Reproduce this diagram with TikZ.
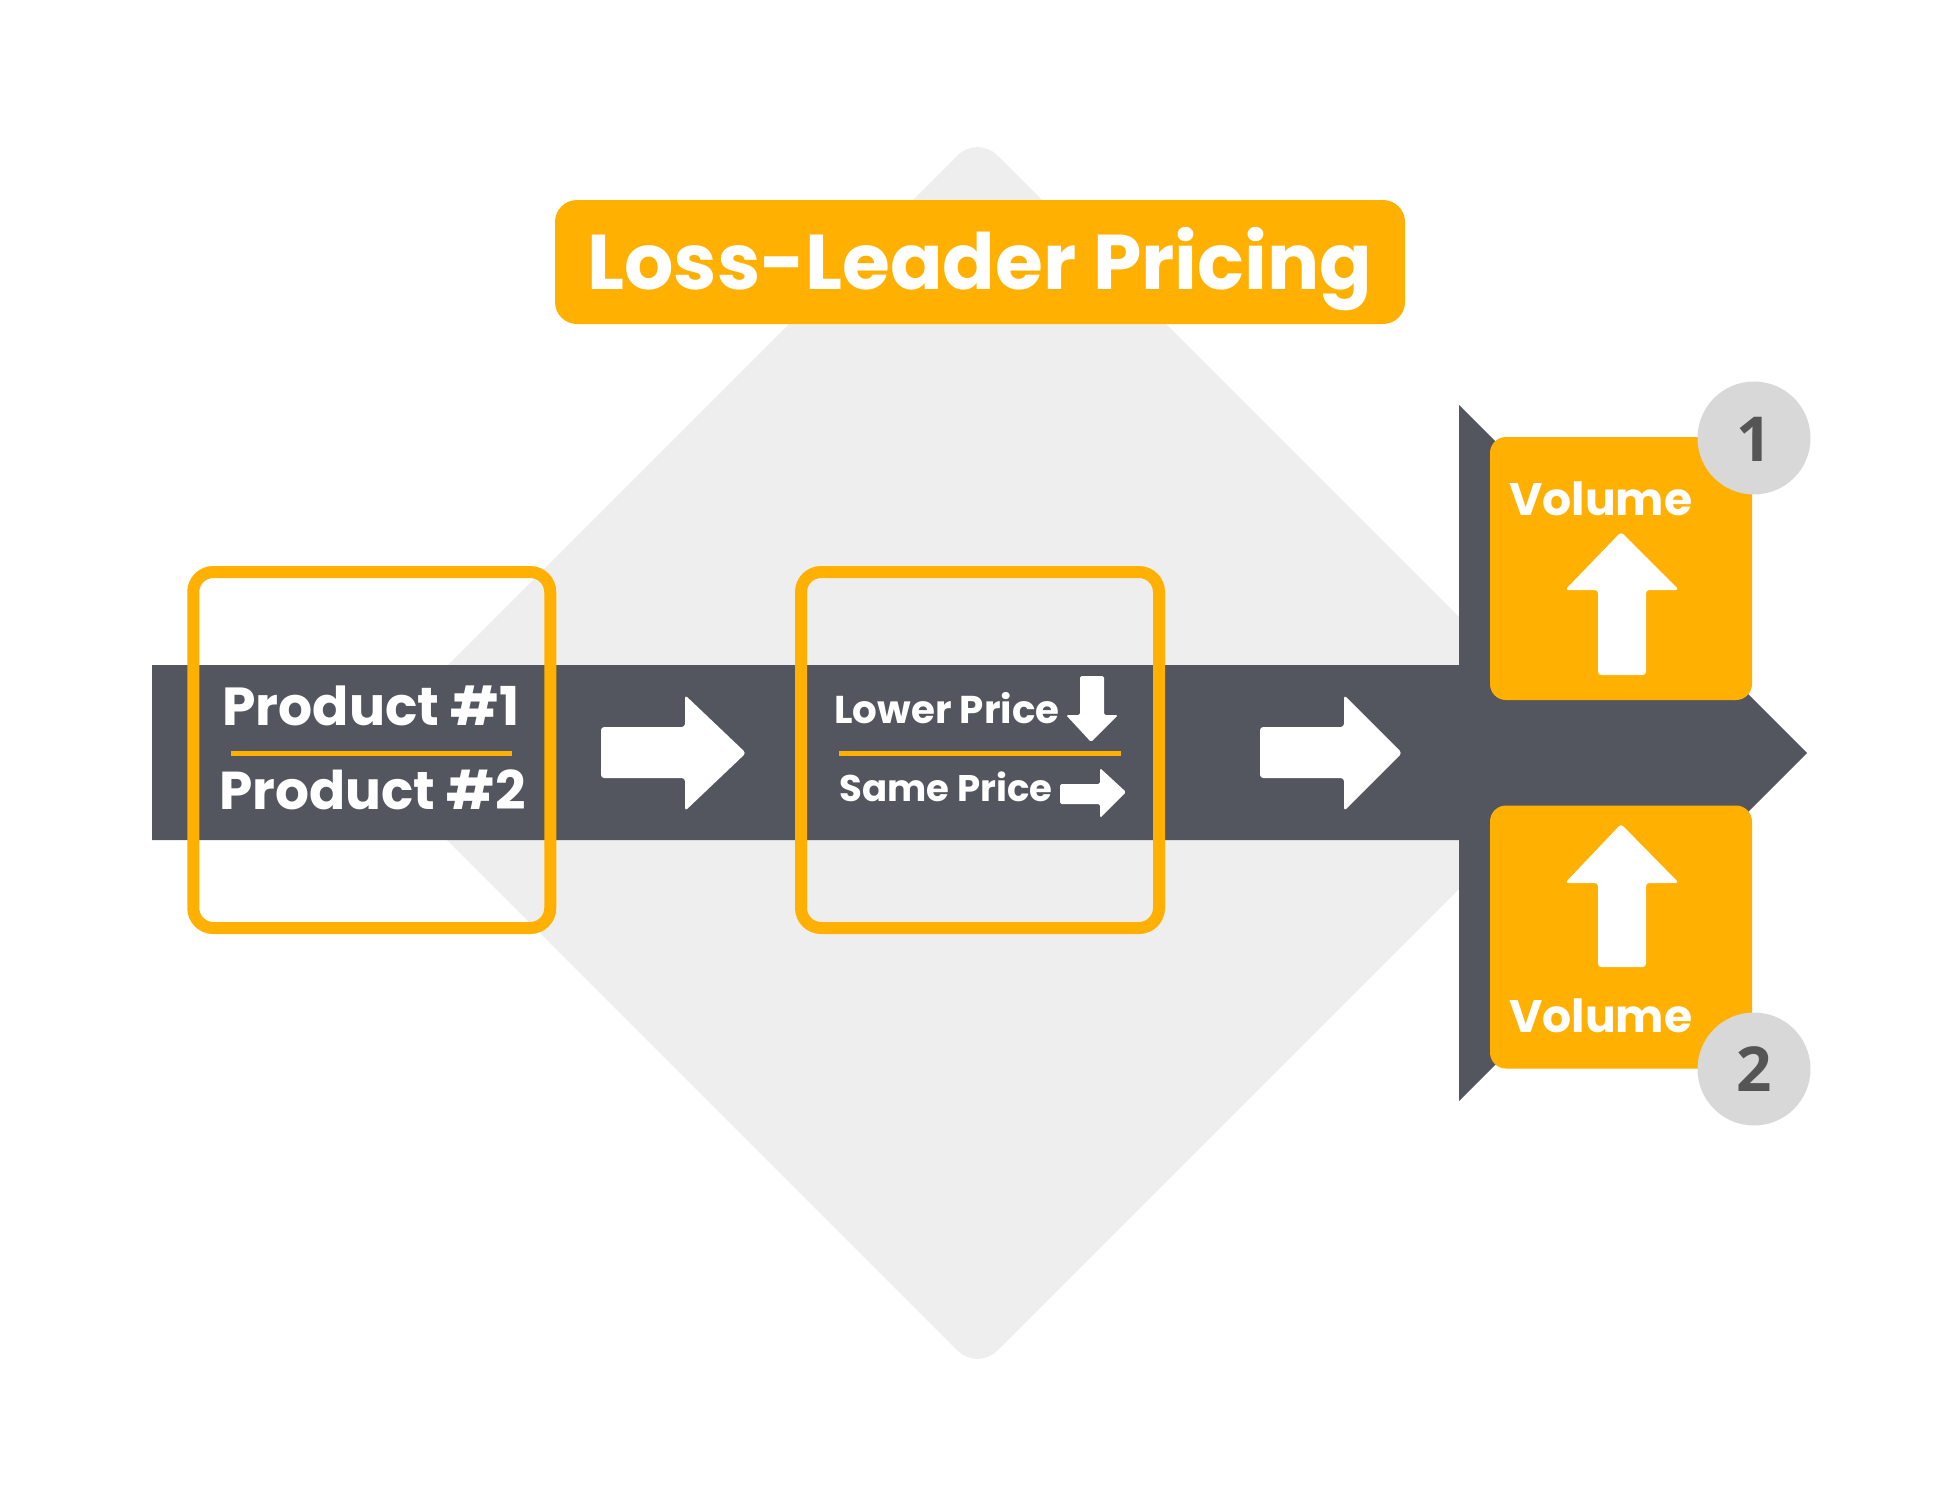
\documentclass[tikz,border=0pt]{standalone}
\usepackage{fontspec}
\usepackage{graphicx}
\setmainfont{Poppins}[BoldFont={Poppins Bold}]
\newfontfamily\digitfont{Open Sans}[BoldFont={Open Sans Bold}]
\definecolor{amber}{HTML}{FFB000}
\definecolor{slate}{HTML}{53565F}
\definecolor{pale}{HTML}{EEEEEE}
\definecolor{disc}{HTML}{D8D8D8}
\definecolor{ink}{HTML}{555555}
\newcommand{\fitted}[2]{\resizebox{#1}{!}{\bfseries #2}}
\tikzset{
  whitearrow/.style={fill=white,draw=none,rounded corners=1.6pt},
  frame/.style={draw=amber,line width=6pt,rounded corners=10pt},
  divider/.style={draw=amber,line width=2.5pt},
  label/.style={anchor=base west,inner sep=0pt,text=white},
  badge/.style={circle,fill=disc,inner sep=0pt,minimum size=56.5pt},
  digit/.style={anchor=base,inner sep=0pt,text=ink,font=\digitfont\bfseries\fontsize{31}{31}\selectfont},
  volbox/.style={fill=amber,rounded corners=8pt},
}
\begin{document}
\begin{tikzpicture}[x=0.5pt,y=-0.5pt]
\useasboundingbox (0,0) rectangle (1950,1500);
% diamond
\fill[pale,rounded corners=14pt] (977.5,135.5) -- (1595,753) -- (977.5,1370.5) -- (360,753) -- cycle;
% main arrow
\fill[slate] (152,665) -- (1459,665) -- (1459,405) -- (1807,753) -- (1459,1101) -- (1459,840) -- (152,840) -- cycle;
% title
\node[fill=amber,rounded corners=11pt,minimum width=425pt,minimum height=62pt,inner sep=0pt] (titlebox) at (980,262) {};
\node[label] (title) at (587,289) {\fitted{392.5pt}{Loss-Leader Pricing}};
% frames
\node[frame,minimum width=178.5pt,minimum height=178pt,inner sep=0pt] (frameA) at (371.75,750) {};
\node[frame,minimum width=179pt,minimum height=178pt,inner sep=0pt] (frameB) at (980,750) {};
% product labels
\node[label] (prodA) at (222,725) {\fitted{148.5pt}{Product \#1}};
\node[label] (prodB) at (219,809) {\fitted{153pt}{Product \#2}};
\coordinate (divAl) at (231,753); \coordinate (divAr) at (512,753);
\draw[divider] (divAl) -- (divAr);
% price labels
\node[label] (lower) at (834,723) {\fitted{112.5pt}{Lower Price}};
\node[label] (same) at (839,801) {\fitted{106.5pt}{Same Price}};
\coordinate (divBl) at (839,753); \coordinate (divBr) at (1121,753);
\draw[divider] (divBl) -- (divBr);
% big arrows
\fill[whitearrow] (601,727) -- (685,727) -- (685,695) -- (746,753) -- (685,811) -- (685,778) -- (601,778) -- cycle;
\fill[whitearrow] (1260,727) -- (1344,727) -- (1344,695) -- (1402,753) -- (1344,811) -- (1344,778) -- (1260,778) -- cycle;
% small arrows
\fill[whitearrow,rounded corners=0.8pt] (1080,676) -- (1104,676) -- (1104,715) -- (1118,715) -- (1091,742) -- (1066,715) -- (1080,715) -- cycle;
\fill[whitearrow,rounded corners=0.8pt] (1060,784) -- (1100,784) -- (1100,768) -- (1126,792) -- (1100,818) -- (1100,804) -- (1060,804) -- cycle;
% volume boxes
\node[volbox,minimum width=131pt,minimum height=131.5pt,inner sep=0pt] (volA) at (1621,568.5) {};
\node[volbox,minimum width=131pt,minimum height=131.5pt,inner sep=0pt] (volB) at (1621,937) {};
\node[label] (volAt) at (1509,515) {\fitted{91.5pt}{Volume}};
\node[label] (volBt) at (1509,1032) {\fitted{91.5pt}{Volume}};
\fill[whitearrow] (1621,532) -- (1679,590) -- (1646,590) -- (1646,675) -- (1598,675) -- (1598,590) -- (1565,590) -- cycle;
\fill[whitearrow] (1621,824) -- (1679,883) -- (1646,883) -- (1646,967) -- (1598,967) -- (1598,883) -- (1565,883) -- cycle;
% badges
\node[badge] (badgeA) at (1754,438) {};
\node[badge] (badgeB) at (1754,1069) {};
\node[digit] (one) at (1754,461) {1};
\node[digit] (two) at (1754,1091) {2};
\end{tikzpicture}
\end{document}
